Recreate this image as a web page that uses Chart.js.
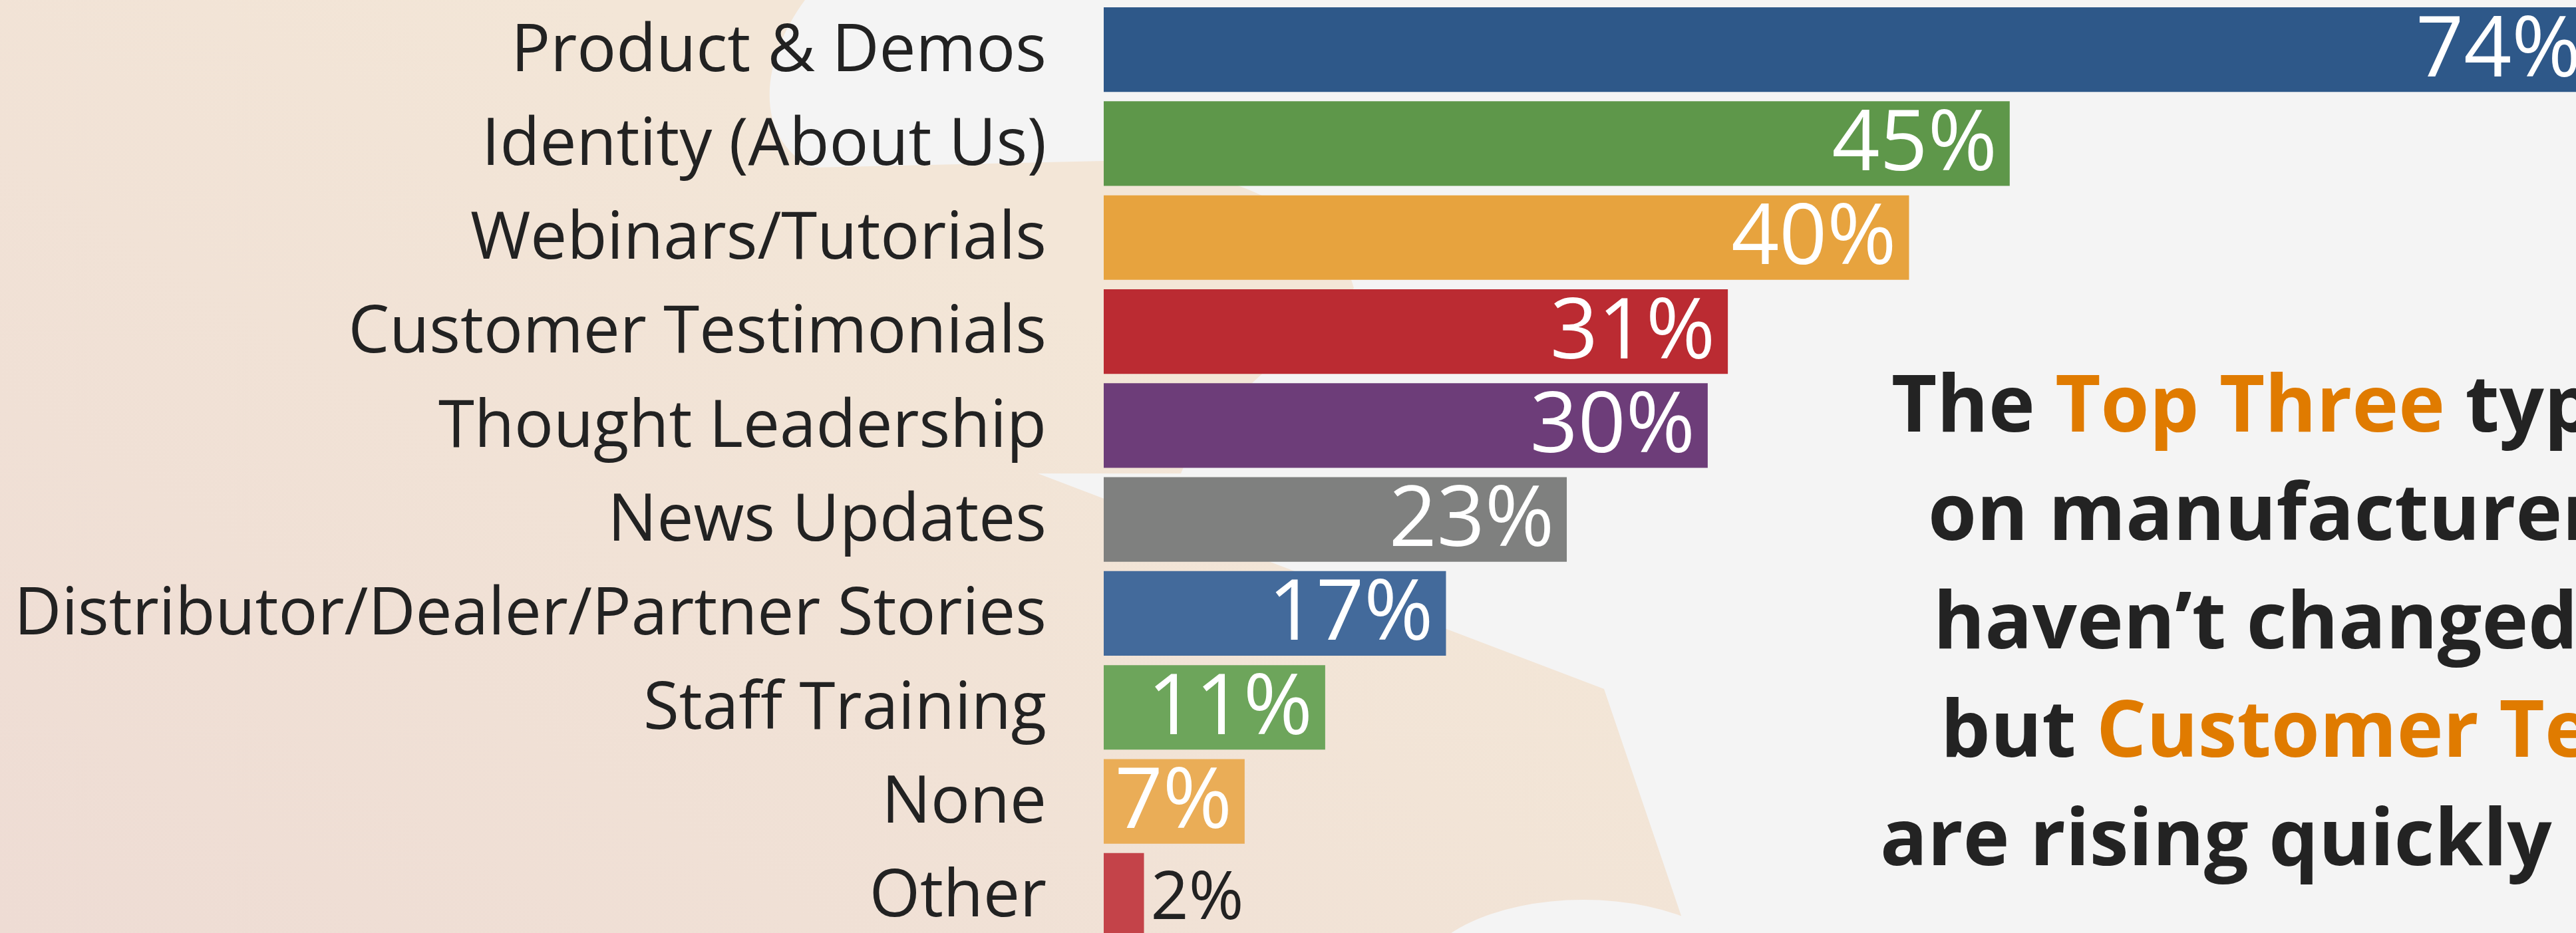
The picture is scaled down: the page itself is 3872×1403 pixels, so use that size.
<!DOCTYPE html>
<html>
<head>
<meta charset="utf-8">
<script src="https://cdn.jsdelivr.net/npm/chart.js@4.4.0/dist/chart.umd.min.js"></script>
<style>
  html, body { margin: 0; padding: 0; overflow: hidden; background: #f4f4f4; }
  .wrap { width: 3872px; height: 1403px; overflow: hidden; position: relative; }
  /* the canvas is taller than the page so the rows can run off the bottom edge */
  #contentChart { position: absolute; left: 0; top: -156px; }
</style>
</head>
<body>
<div class="wrap"><canvas id="contentChart" width="4080" height="1733"></canvas></div>
<script>
const categories = [
  'Product & Demos',
  'Identity (About Us)',
  'Webinars/Tutorials',
  'Customer Testimonials',
  'Thought Leadership',
  'News Updates',
  'Distributor/Dealer/Partner Stories',
  'Staff Training',
  'None',
  'Other'
];
const shares = [74, 45, 40, 31, 30, 23, 17, 11, 7, 2];
const barColors = [
  '#2e5889', '#5e974a', '#e7a33e', '#bb2b32', '#6d3d79',
  '#7f807f', '#436a9b', '#6da55b', '#eaad57', '#c44349'
];

// headline text, one entry per line, split into coloured runs
const DARK = '#232323';
const ORANGE = '#e07b00';
const headline = [
  [['The ', DARK], ['Top Three', ORANGE], [' types of content', DARK]],
  [['on manufacturers\u2019 websites', DARK]],
  [['haven\u2019t changed much,', DARK]],
  [['but ', DARK], ['Customer Testimonials', ORANGE]],
  [['are rising quickly in popularity.', DARK]]
];
const headlineStarts = [2843, 2898, 2906, 2917, 2826];

const SHIFT = 156; // canvas offset above the page top

const backdrop = {
  id: 'backdrop',
  beforeDraw(chart) {
    const ctx = chart.ctx;
    ctx.save();
    ctx.fillStyle = '#f4f4f4';
    ctx.fillRect(0, 0, chart.width, chart.height);
    ctx.translate(0, SHIFT);

    const warm = ctx.createLinearGradient(900, 0, 0, 1403);
    warm.addColorStop(0, '#f3e6d7');
    warm.addColorStop(1, '#eedcd4');
    ctx.fillStyle = warm;
    ctx.beginPath();
    ctx.moveTo(0, -SHIFT);
    ctx.lineTo(1210, -SHIFT);
    ctx.lineTo(1210, 0);
    ctx.bezierCurveTo(1150, 80, 1125, 200, 1220, 252);
    ctx.lineTo(1660, 242);
    ctx.bezierCurveTo(1860, 250, 2010, 330, 2035, 433);
    ctx.bezierCurveTo(2000, 490, 1820, 600, 1775, 712);
    ctx.lineTo(1560, 712);
    ctx.lineTo(2411, 1036);
    ctx.lineTo(2527, 1377);
    ctx.lineTo(2527, 1600);
    ctx.lineTo(0, 1600);
    ctx.closePath();
    ctx.fill();

    // pale blob along the bottom edge
    ctx.fillStyle = '#f4f4f4';
    ctx.beginPath();
    ctx.ellipse(2380, 1480, 250, 127, 0, 0, Math.PI * 2);
    ctx.fill();
    ctx.restore();
  }
};

const valueLabels = {
  id: 'valueLabels',
  afterDatasetsDraw(chart) {
    const ctx = chart.ctx;
    const bars = chart.getDatasetMeta(0).data;
    ctx.save();
    ctx.textBaseline = 'alphabetic';
    bars.forEach((bar, i) => {
      const v = shares[i];
      const inside = v >= 5;
      ctx.font = inside ? '126px "Open Sans"' : '100px "Open Sans"';
      ctx.fillStyle = inside ? '#ffffff' : '#222222';
      ctx.textAlign = inside ? 'right' : 'left';
      const x = inside ? bar.x - 19 : bar.x + 10;
      ctx.fillText(v + '%', x, bar.y + (inside ? 40 : 36));
    });
    ctx.restore();
  }
};

const headlineText = {
  id: 'headlineText',
  afterDraw(chart) {
    const ctx = chart.ctx;
    ctx.save();
    ctx.translate(0, SHIFT);
    ctx.font = 'bold 118px "Open Sans"';
    ctx.textAlign = 'left';
    ctx.textBaseline = 'alphabetic';
    headline.forEach((runs, i) => {
      let x = headlineStarts[i];
      const y = 649 + i * 163;
      runs.forEach(([text, color]) => {
        ctx.fillStyle = color;
        ctx.fillText(text, x, y);
        x += ctx.measureText(text).width;
      });
    });
    ctx.restore();
  }
};

function drawChart() {
  const ctx = document.getElementById('contentChart').getContext('2d');
  new Chart(ctx, {
    type: 'bar',
    data: {
      labels: categories,
      datasets: [{
        data: shares,
        backgroundColor: barColors,
        borderWidth: 0,
        barPercentage: 0.9,
        categoryPercentage: 1.0
      }]
    },
    options: {
      indexAxis: 'y',
      responsive: false,
      animation: false,
      layout: { padding: { top: SHIFT + 4, bottom: 160, left: 0, right: 0 } },
      plugins: {
        legend: { display: false },
        tooltip: { enabled: false }
      },
      scales: {
        x: { display: false, min: 0, max: 80 },
        y: {
          grid: { display: false, drawTicks: false },
          border: { display: false },
          ticks: {
            autoSkip: false,
            padding: 86,
            labelOffset: 4,
            color: '#222222',
            font: { family: '"Open Sans"', size: 98 }
          },
          afterFit: (scale) => { scale.width = 1659; }
        }
      }
    },
    plugins: [backdrop, valueLabels, headlineText]
  });
}

Promise.all([
  document.fonts.load('98px "Open Sans"'),
  document.fonts.load('bold 118px "Open Sans"')
]).then(drawChart, drawChart);
</script>
</body>
</html>
